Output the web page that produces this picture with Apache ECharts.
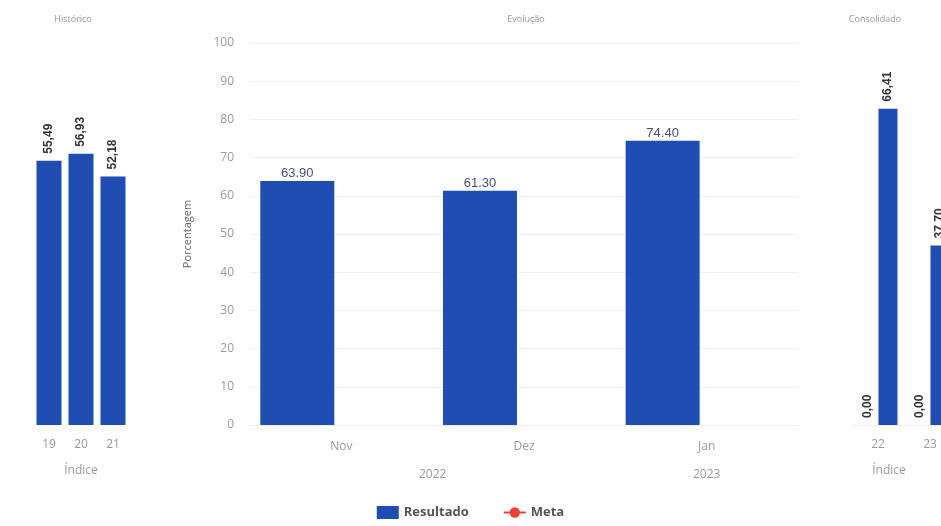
<!DOCTYPE html>
<html>
<head>
<meta charset="utf-8">
<script src="https://cdn.jsdelivr.net/npm/echarts@6/dist/echarts.min.js"></script>
<style>
html,body{margin:0;padding:0;background:#fff;}
#chart{width:941px;height:526px;}
</style>
</head>
<body>
<div id="chart"></div>
<script>
// ---- Data ----
var histCategories = ['19', '20', '21'];
var histValues = [55.49, 56.93, 52.18];

var evoMonths = ['Nov', 'Dez', 'Jan'];
var evoResultado = [63.90, 61.30, 74.40];
var evoMeta = [null, null, null];
var evoYearTicks = ['', '', '2022', '', '', '2023', ''];
var evoYTicksMax = 100;

var consCategories = ['22', '23'];
var consBase = [0.00, 0.00];
var consValues = [66.41, 37.70];

var titles = ['Histórico', 'Evolução', 'Consolidado'];

// ---- Styles ----
var barColor = '#1f4db2';
var axisGray = '#9a9a9a';
var baseFont = 'Open Sans, Noto Sans, sans-serif';

function commaFmt(p) { return p.value.toFixed(2).replace('.', ','); }

var sideLabel = {
  show: true, position: 'top', rotate: 90, align: 'left', verticalAlign: 'middle',
  distance: 7, fontSize: 12, fontWeight: 'bold', color: '#333',
  fontFamily: 'Liberation Sans, Arial, sans-serif', formatter: commaFmt
};

var chart = echarts.init(document.getElementById('chart'));
chart.setOption({
  backgroundColor: '#fff',
  animation: false,
  textStyle: { fontFamily: baseFont },
  title: [
    { text: titles[0], left: 68, top: 10, textAlign: 'center', textStyle: { fontSize: 9, fontWeight: 'normal', color: '#999' } },
    { text: titles[1], left: 521, top: 10, textAlign: 'center', textStyle: { fontSize: 9, fontWeight: 'normal', color: '#999' } },
    { text: titles[2], left: 870, top: 10, textAlign: 'center', textStyle: { fontSize: 9, fontWeight: 'normal', color: '#999' } }
  ],
  legend: {
    bottom: 2, left: 'center', itemWidth: 22, itemHeight: 13, itemGap: 34,
    data: [{ name: 'Resultado', icon: 'rect' }, { name: 'Meta' }],
    textStyle: { fontSize: 13, fontWeight: 'bold', color: '#555', fontFamily: baseFont }
  },
  grid: [
    { left: 33, width: 96, top: 44, height: 381 },
    { left: 250, width: 548, top: 43, height: 382 },
    { left: 852, width: 104, top: 44, height: 381, outerBoundsMode: 'none' }
  ],
  xAxis: [
    { gridIndex: 0, type: 'category', data: histCategories,
      name: 'Índice', nameLocation: 'middle', nameGap: 40,
      nameTextStyle: { fontSize: 12, color: axisGray },
      axisLine: { show: false }, axisTick: { show: false },
      axisLabel: { fontSize: 12, color: axisGray, margin: 14 } },
    { gridIndex: 1, type: 'category', data: evoMonths,
      axisLine: { show: true, lineStyle: { color: '#f0f0f0' } }, axisTick: { show: false },
      axisLabel: { fontSize: 12, color: axisGray, margin: 16 } },
    { gridIndex: 1, type: 'category', data: evoYearTicks, boundaryGap: false,
      position: 'bottom', offset: 28,
      axisLine: { show: false }, axisTick: { show: false }, splitLine: { show: false },
      axisLabel: { interval: 0, fontSize: 12, color: axisGray, margin: 16 } },
    { gridIndex: 2, type: 'category', data: consCategories,
      name: 'Índice', nameLocation: 'middle', nameGap: 40,
      nameTextStyle: { fontSize: 12, color: axisGray, padding: [0, 0, 0, -30] },
      axisLine: { show: true, lineStyle: { color: '#f0f0f0' } }, axisTick: { show: false },
      axisLabel: { fontSize: 12, color: axisGray, margin: 14 } }
  ],
  yAxis: [
    { gridIndex: 0, type: 'value', min: 0, max: 80, show: false, splitLine: { show: false } },
    { gridIndex: 1, type: 'value', min: 0, max: evoYTicksMax, interval: 10,
      name: 'Porcentagem', nameLocation: 'middle', nameGap: 57, nameRotate: 90,
      nameTextStyle: { fontSize: 11, color: '#666' },
      axisLine: { show: false }, axisTick: { show: false },
      axisLabel: { fontSize: 12, color: axisGray, margin: 16 },
      splitLine: { show: true, lineStyle: { color: '#f0f0f0', width: 1 } } },
    { gridIndex: 2, type: 'value', min: 0, max: 80, show: false, splitLine: { show: false } }
  ],
  series: [
    { name: 'Resultado', type: 'bar', xAxisIndex: 0, yAxisIndex: 0, data: histValues,
      barWidth: 25, itemStyle: { color: barColor }, label: sideLabel },
    { name: 'Resultado', type: 'bar', xAxisIndex: 1, yAxisIndex: 1, data: evoResultado,
      barWidth: 74, barGap: '19%', itemStyle: { color: barColor },
      label: { show: true, position: 'top', distance: 1, fontSize: 13, color: '#44507a',
        fontFamily: 'Liberation Sans, Arial, sans-serif',
        formatter: function (p) { return p.value.toFixed(2); } } },
    { name: 'MetaSlot', type: 'bar', xAxisIndex: 1, yAxisIndex: 1, data: evoMeta,
      barWidth: 74, itemStyle: { color: 'transparent' } },
    { name: 'Meta', type: 'line', xAxisIndex: 1, yAxisIndex: 1, data: evoMeta,
      symbol: 'circle', symbolSize: 7, itemStyle: { color: '#e8413a' }, lineStyle: { color: '#e8413a', width: 2 } },
    { name: 'Base', type: 'bar', xAxisIndex: 3, yAxisIndex: 2, data: consBase,
      barWidth: 19, barGap: '5%', itemStyle: { color: barColor }, label: sideLabel },
    { name: 'Resultado', type: 'bar', xAxisIndex: 3, yAxisIndex: 2, data: consValues,
      barWidth: 19, itemStyle: { color: barColor }, label: sideLabel }
  ]
});
</script>
</body>
</html>
